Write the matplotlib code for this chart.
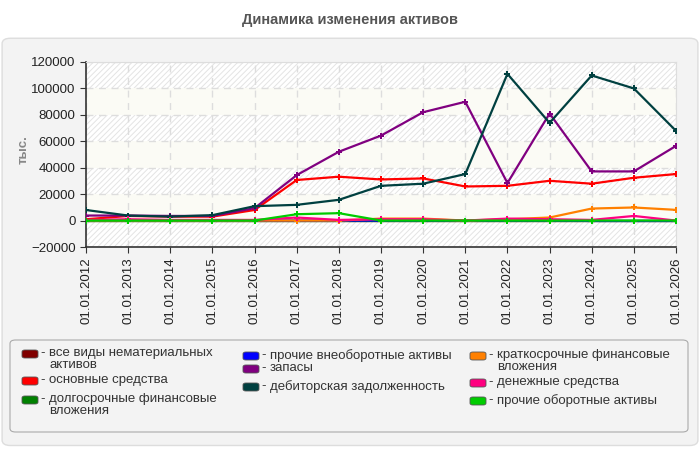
import matplotlib
matplotlib.use("Agg")
import matplotlib.pyplot as plt
from matplotlib.patches import FancyBboxPatch

plt.rcParams['font.family'] = ['Liberation Sans', 'DejaVu Sans']
plt.rcParams['hatch.linewidth'] = 0.7

years = ['01.01.2012', '01.01.2013', '01.01.2014', '01.01.2015', '01.01.2016',
         '01.01.2017', '01.01.2018', '01.01.2019', '01.01.2020', '01.01.2021',
         '01.01.2022', '01.01.2023', '01.01.2024', '01.01.2025', '01.01.2026']

labels = ['все виды нематериальных\nактивов', 'основные средства',
          'долгосрочные финансовые\nвложения', 'прочие внеоборотные активы',
          'запасы', 'дебиторская задолженность',
          'краткосрочные финансовые\nвложения', 'денежные средства',
          'прочие оборотные активы']
colors = ['#800000', '#ff0000', '#008000', '#0000ff', '#800080', '#004040',
          '#ff8000', '#ff0080', '#00cc00']

nematerial = [0, 0, 0, 0, 0, 0, 0, 0, 0, 0, 0, 0, 0, 0, 0]
osnovnye = [1000, 3500, 3000, 3000, 8000, 30700, 33200, 31100, 31900, 25800,
            26300, 30100, 27900, 32400, 35200]
dolgosroch = [0, 0, 0, 0, 0, 0, 0, 0, 0, 0, 0, 0, 0, 0, 0]
prochie_vneob = [0, 0, 0, 0, 0, 0, 0, 0, 0, 0, 0, 0, -300, -300, -300]
zapasy = [3800, 3800, 3500, 3500, 9400, 34400, 52100, 64300, 82000, 89900,
          28400, 81000, 37200, 37200, 56500]
debitor = [8000, 3800, 3000, 4100, 10900, 11900, 15700, 26300, 27900, 35200,
           111000, 73900, 109800, 100000, 67900]
kratkosroch = [0, 0, 0, 0, 0, 0, 0, 1500, 1500, 0, 1000, 2300, 9100, 9900, 8100]
denezhnye = [500, 1000, 500, 500, 500, 2300, 500, 1000, 1000, 0, 1500, 1000,
             500, 3500, 0]
prochie_obor = [0, 0, 0, 0, 0, 4800, 5600, 0, 0, 0, 0, 0, 0, 0, 0]

series = [nematerial, osnovnye, dolgosroch, prochie_vneob, zapasy, debitor,
          kratkosroch, denezhnye, prochie_obor]

fig = plt.figure(figsize=(7, 4.5), dpi=100)
fig.patch.set_facecolor('white')

# grey rounded panel behind everything
panel = FancyBboxPatch((0.003, 0.01), 0.994, 0.905, boxstyle="round,pad=0,rounding_size=0.012",
                       transform=fig.transFigure, facecolor='#f3f3f3', edgecolor='#dddddd',
                       linewidth=1, zorder=-3)
fig.patches.append(panel)

fig.text(0.5, 0.955, 'Динамика изменения активов', ha='center', va='center',
         fontsize=10.5, fontweight='bold', color='#555555')

ax = fig.add_axes([86 / 700, 1 - 247 / 450, 590 / 700, 185 / 450])
ax.set_facecolor('white')

# alternating bands
ymin, ymax = -20000, 120000
for i, lo in enumerate(range(ymin, ymax, 20000)):
    if i % 2 == 0:
        ax.axhspan(lo, lo + 20000, facecolor='white', edgecolor='#e4e4e4',
                   hatch='//////', linewidth=0, zorder=0)
    else:
        ax.axhspan(lo, lo + 20000, facecolor='#fbfbf5', linewidth=0, zorder=0)

x = list(range(len(years)))
for vals, c in zip(series, colors):
    ax.plot(x, vals, color=c, linewidth=1.6, marker='P', markersize=5,
            markeredgewidth=0, zorder=3)

ax.set_xlim(0, len(years) - 1)
ax.set_ylim(ymin, ymax)
ax.set_yticks(range(ymin, ymax + 1, 20000))
ax.set_xticks(x)
ax.set_xticklabels(years, rotation=90, fontsize=9.5, color='#222222')
ax.tick_params(axis='y', labelsize=9.5, labelcolor='#222222', length=4, color='#333333')
ax.tick_params(axis='x', length=4, color='#333333')
ax.grid(True, color='#dddddd', linestyle=(0, (5, 4)), linewidth=1, zorder=1)
for s in ['top', 'right']:
    ax.spines[s].set_color('#dddddd')
for s in ['left', 'bottom']:
    ax.spines[s].set_color('#333333')
    ax.spines[s].set_linewidth(1.2)

fig.text(24 / 700, 1 - 150 / 450, 'тыс.', rotation=90, ha='center', va='center',
         fontsize=9.5, fontweight='bold', color='#888888')

# legend box
lbox = FancyBboxPatch((10 / 700, 1 - 432 / 450), 678 / 700, 92 / 450,
                      boxstyle="round,pad=0,rounding_size=0.008", transform=fig.transFigure,
                      facecolor='#f3f3f3', edgecolor='#aaaaaa', linewidth=0.8, zorder=-2)
fig.patches.append(lbox)

col_x = [22, 243, 470]
row_y = [354, 381, 400, 356, 369, 387, 356, 383, 401]
for k, (lab, c) in enumerate(zip(labels, colors)):
    cx = col_x[k // 3]
    ty = row_y[k]
    p = FancyBboxPatch((cx / 700, 1 - (ty + 4) / 450), 16 / 700, 8 / 450,
                       boxstyle="round,pad=0,rounding_size=0.004", transform=fig.transFigure,
                       facecolor=c, edgecolor='#555555', linewidth=0.6, zorder=2)
    fig.patches.append(p)
    fig.text((cx + 18) / 700, 1 - (ty - 7) / 450, '-', ha='left', va='top',
             fontsize=9.5, color='#333333')
    fig.text((cx + 27) / 700, 1 - (ty - 7) / 450, lab, ha='left', va='top',
             fontsize=9.5, color='#333333', linespacing=1.0)

fig.savefig('out.png', dpi=100, facecolor=fig.get_facecolor())
